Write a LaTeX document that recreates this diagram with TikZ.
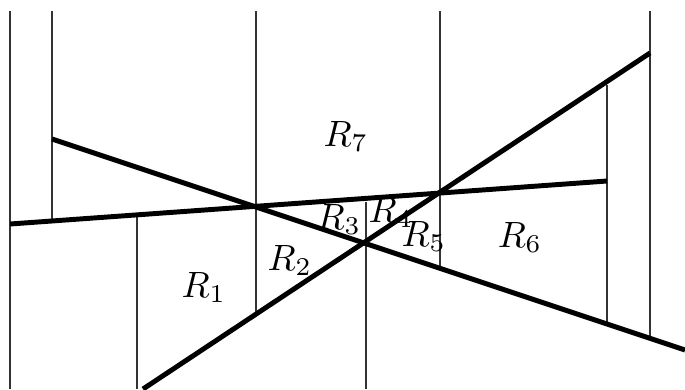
\documentclass[tikz,border=0pt]{standalone}
\begin{document}
\begin{tikzpicture}[x=0.0096cm,y=-0.0096cm,
  thickline/.style={line width=1.35pt},
  vline/.style={line width=0.35pt,black!80},
  lbl/.style={anchor=base west,inner sep=0pt}]
\useasboundingbox (0,0) rectangle (685,389);
% endpoints
\coordinate (a1) at (52,139);
\coordinate (a2) at (685,350);
\coordinate (b1) at (10,224);
\coordinate (b2) at (607,181);
\coordinate (c1) at (143,389);
\coordinate (c2) at (650,53);
% vertical line ends
\coordinate (v1t) at (10,11);   \coordinate (v1b) at (10,389);
\coordinate (v2t) at (52,11);   \coordinate (v2b) at (52,221);
\coordinate (v3t) at (137,215); \coordinate (v3b) at (137,389);
\coordinate (v4t) at (256,11);  \coordinate (v4b) at (256,314);
\coordinate (v5t) at (366,202); \coordinate (v5b) at (366,389);
\coordinate (v6t) at (440,11);  \coordinate (v6b) at (440,268);
\coordinate (v7t) at (607,85);  \coordinate (v7b) at (607,322);
\coordinate (v8t) at (650,11);  \coordinate (v8b) at (650,336);
\draw[vline] (v1t) -- (v1b);
\draw[vline] (v2t) -- (v2b);
\draw[vline] (v3t) -- (v3b);
\draw[vline] (v4t) -- (v4b);
\draw[vline] (v5t) -- (v5b);
\draw[vline] (v6t) -- (v6b);
\draw[vline] (v7t) -- (v7b);
\draw[vline] (v8t) -- (v8b);
\draw[thickline] (a1) -- (a2);
\draw[thickline] (b1) -- (b2);
\draw[thickline] (c1) -- (c2);
\node[lbl] (r1) at (181,297) {$R_1$};
\node[lbl] (r2) at (267,270) {$R_2$};
\node[lbl] (r3) at (316,229) {$R_3$};
\node[lbl] (r4) at (368,222) {$R_4$};
\node[lbl] (r5) at (401,246) {$R_5$};
\node[lbl] (r6) at (497,247) {$R_6$};
\node[lbl] (r7) at (323,146) {$R_7$};
\end{tikzpicture}
\end{document}
